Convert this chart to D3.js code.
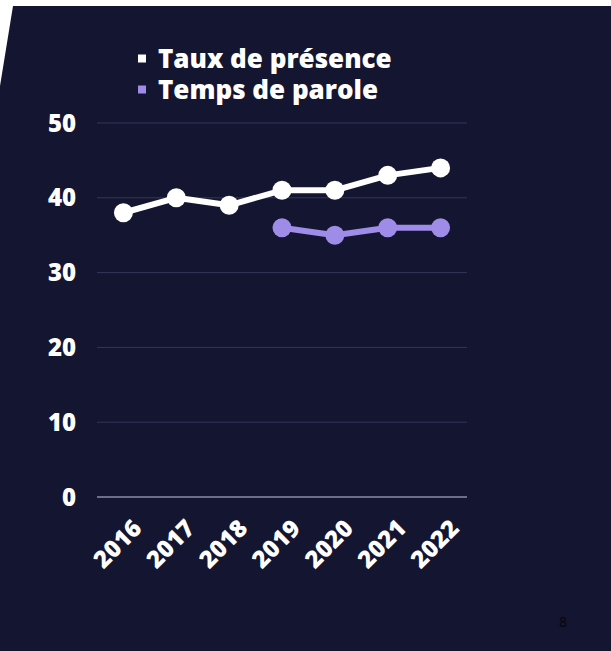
<!DOCTYPE html>
<html>
<head>
<meta charset="utf-8">
<script src="https://cdn.jsdelivr.net/npm/d3@7"></script>
<style>
	body { margin: 0; background: #fff; }
	svg { display: block; font-family: "Open Sans", "Noto Sans", sans-serif; }
</style>
</head>
<body>
<svg id="chart" width="611" height="651"></svg>
<script>
let years = ["2016", "2017", "2018", "2019", "2020", "2021", "2022"];
let presence = [38, 40, 39, 41, 41, 43, 44];
let parole = [null, null, null, 36, 35, 36, 36];
let yTicks = [0, 10, 20, 30, 40, 50];
let seriesNames = ["Taux de présence", "Temps de parole"];
let seriesColors = ["#ffffff", "#9f8be8"];

let svg = d3.select("#chart");
let width = 611, height = 651;

// background slide
svg.append("rect").attr("width", width).attr("height", height).attr("fill", "#141530");
svg.append("rect").attr("width", width).attr("height", 6).attr("fill", "#fff");
svg.append("path").attr("d", "M0,0L13,0L13,6L0,86Z").attr("fill", "#fff");

let x = d3.scalePoint().domain(years).range([97, 467]).padding(0.5);
let y = d3.scaleLinear().domain([0, 50]).range([497, 123]);

// gridlines
svg.selectAll("line.grid")
	.data(yTicks)
	.enter().append("line")
	.attr("class", "grid")
	.attr("x1", 97).attr("x2", 467)
	.attr("y1", d => y(d)).attr("y2", d => y(d))
	.attr("stroke", d => d == 0 ? "#8c8ca6" : "#34365a")
	.attr("stroke-width", d => d == 0 ? 1.5 : 1);

// y labels
svg.selectAll("text.ylab")
	.data(yTicks)
	.enter().append("text")
	.attr("class", "ylab")
	.attr("x", 76)
	.attr("y", d => y(d))
	.attr("dy", "0.36em")
	.attr("text-anchor", "end")
	.attr("fill", "#fff")
	.attr("font-size", 24)
	.attr("font-weight", 800)
	.text(d => d);

// x labels
svg.selectAll("text.xlab")
	.data(years)
	.enter().append("text")
	.attr("class", "xlab")
	.attr("transform", d => "translate(" + (x(d) + 8) + ",518) rotate(-45)")
	.attr("text-anchor", "end")
	.attr("dy", "0.7em")
	.attr("fill", "#fff")
	.attr("font-size", 24)
	.attr("font-weight", 800)
	.text(d => d);

let line = d3.line()
	.defined(d => d.v != null)
	.x(d => x(d.year))
	.y(d => y(d.v));

[presence, parole].forEach(function(vals, i) {
	let pts = years.map((yr, j) => ({year: yr, v: vals[j]}));
	svg.append("path")
		.datum(pts)
		.attr("d", line)
		.attr("fill", "none")
		.attr("stroke", seriesColors[i])
		.attr("stroke-width", 6)
		.attr("stroke-linejoin", "round");
	svg.selectAll("circle.s" + i)
		.data(pts.filter(d => d.v != null))
		.enter().append("circle")
		.attr("class", "s" + i)
		.attr("cx", d => x(d.year))
		.attr("cy", d => y(d.v))
		.attr("r", 9.5)
		.attr("fill", seriesColors[i]);
});

// legend
let legend = svg.selectAll("g.legend")
	.data(seriesNames)
	.enter().append("g")
	.attr("class", "legend")
	.attr("transform", (d, i) => "translate(138," + (58.5 + i * 31) + ")");
legend.append("rect")
	.attr("x", 0).attr("y", -4)
	.attr("width", 8).attr("height", 8)
	.attr("fill", (d, i) => seriesColors[i]);
legend.append("text")
	.attr("x", 20)
	.attr("dy", "0.36em")
	.attr("fill", "#fff")
	.attr("font-size", 26)
	.attr("font-weight", 800)
	.text(d => d);

// page number
svg.append("text")
	.attr("x", 563).attr("y", 627)
	.attr("text-anchor", "middle")
	.attr("fill", "#05050c")
	.attr("font-size", 14)
	.text("8");
</script>
</body>
</html>
